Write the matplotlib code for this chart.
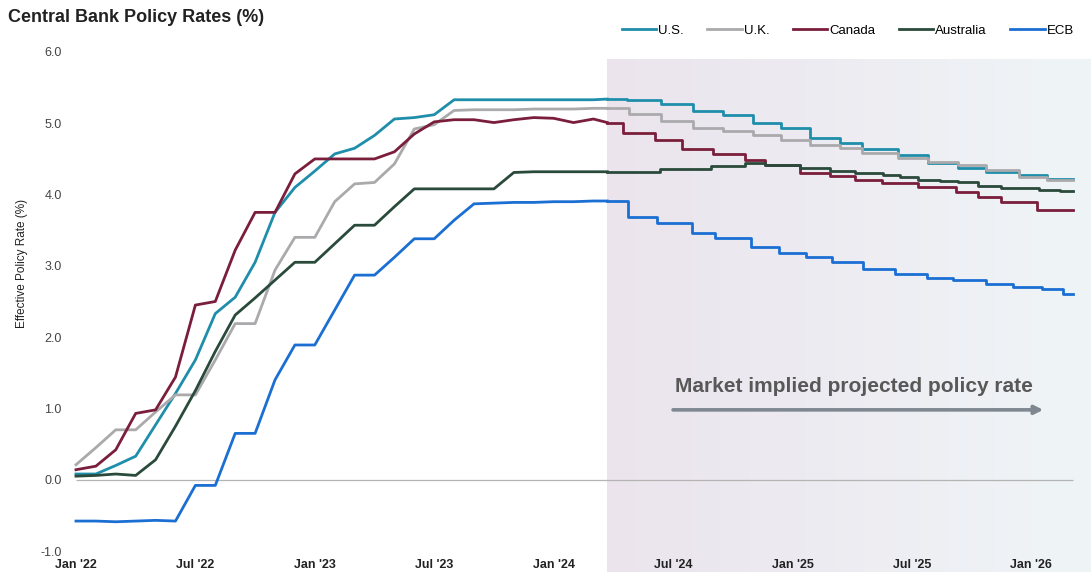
import matplotlib
matplotlib.use("Agg")
import matplotlib.pyplot as plt
import numpy as np

plt.rcParams['font.family'] = ['Liberation Sans', 'DejaVu Sans']

# months since Jan 2022, actual monthly values
hist_months = list(range(27))
us_hist = [0.08, 0.08, 0.20, 0.33, 0.77, 1.21, 1.68, 2.33, 2.56, 3.05, 3.75, 4.10, 4.33, 4.57,
           4.65, 4.83, 5.06, 5.08, 5.12, 5.33, 5.33, 5.33, 5.33, 5.33, 5.33, 5.33, 5.33]
uk_hist = [0.21, 0.45, 0.70, 0.70, 0.95, 1.19, 1.19, 1.68, 2.19, 2.19, 2.94, 3.40, 3.40, 3.90,
           4.15, 4.17, 4.43, 4.92, 4.98, 5.18, 5.19, 5.19, 5.19, 5.20, 5.20, 5.20, 5.21]
canada_hist = [0.14, 0.19, 0.42, 0.93, 0.98, 1.44, 2.45, 2.50, 3.22, 3.75, 3.75, 4.29, 4.50, 4.50,
               4.50, 4.50, 4.60, 4.85, 5.02, 5.05, 5.05, 5.01, 5.05, 5.08, 5.07, 5.01, 5.06]
australia_hist = [0.05, 0.06, 0.08, 0.06, 0.28, 0.75, 1.25, 1.80, 2.31, 2.55, 2.80, 3.05, 3.05, 3.31,
                  3.57, 3.57, 3.83, 4.08, 4.08, 4.08, 4.08, 4.08, 4.31, 4.32, 4.32, 4.32, 4.32]
ecb_hist = [-0.58, -0.58, -0.59, -0.58, -0.57, -0.58, -0.08, -0.08, 0.65, 0.65, 1.40, 1.89, 1.89, 2.38,
            2.87, 2.87, 3.12, 3.38, 3.38, 3.64, 3.87, 3.88, 3.89, 3.89, 3.90, 3.90, 3.91]

# market implied path (meeting dates as months since Jan 2022)
proj_start = 26.7
us_proj_x = [26.7, 27.7, 29.4, 31.0, 32.5, 34.0, 35.4, 36.9, 38.4, 39.5, 41.3, 42.8, 44.3, 45.7, 47.4, 48.8, 50.1]
us_proj = [5.34, 5.32, 5.27, 5.17, 5.11, 5.00, 4.93, 4.79, 4.73, 4.64, 4.55, 4.44, 4.37, 4.31, 4.27, 4.22, 4.22]
uk_proj_x = [26.7, 27.8, 29.4, 31.0, 32.5, 34.0, 35.4, 36.9, 38.4, 39.5, 41.3, 42.8, 44.3, 45.7, 47.4, 48.8, 50.1]
uk_proj = [5.21, 5.13, 5.03, 4.94, 4.89, 4.83, 4.77, 4.69, 4.66, 4.58, 4.51, 4.45, 4.42, 4.34, 4.25, 4.20, 4.20]
canada_proj_x = [26.7, 27.5, 29.1, 30.45, 32.0, 33.6, 34.6, 36.4, 37.9, 39.15, 40.5, 42.3, 44.2, 45.3, 46.5, 48.3, 50.1]
canada_proj = [5.01, 4.87, 4.76, 4.64, 4.57, 4.49, 4.41, 4.30, 4.26, 4.21, 4.16, 4.10, 4.03, 3.97, 3.89, 3.78, 3.78]
australia_proj_x = [26.7, 29.35, 31.9, 33.6, 34.6, 36.4, 37.9, 39.15, 40.55, 41.4, 42.3, 43.4, 44.3, 45.3,
                    46.5, 48.4, 49.45, 50.1]
australia_proj = [4.32, 4.36, 4.40, 4.44, 4.41, 4.37, 4.33, 4.30, 4.27, 4.25, 4.21, 4.19, 4.17, 4.12,
                  4.09, 4.07, 4.05, 4.05]
ecb_proj_x = [26.7, 27.75, 29.2, 30.95, 32.1, 33.9, 35.3, 36.7, 38.0, 39.55, 41.15, 42.75, 44.05, 45.7,
              47.1, 48.55, 49.6, 50.1]
ecb_proj = [3.91, 3.69, 3.60, 3.46, 3.39, 3.26, 3.18, 3.12, 3.05, 2.95, 2.89, 2.83, 2.80, 2.75,
            2.70, 2.67, 2.61, 2.61]

tick_months = [0, 6, 12, 18, 24, 30, 36, 42, 48]
tick_labels = ["Jan '22", "Jul '22", "Jan '23", "Jul '23", "Jan '24", "Jul '24", "Jan '25", "Jul '25", "Jan '26"]
y_ticks = [-1.0, 0.0, 1.0, 2.0, 3.0, 4.0, 5.0, 6.0]

series = [
    ("U.S.", us_hist, us_proj_x, us_proj, "#1f8eaa"),
    ("U.K.", uk_hist, uk_proj_x, uk_proj, "#aaaaad"),
    ("Canada", canada_hist, canada_proj_x, canada_proj, "#7a1e3b"),
    ("Australia", australia_hist, australia_proj_x, australia_proj, "#2a4a3b"),
    ("ECB", ecb_hist, ecb_proj_x, ecb_proj, "#1b6fd3"),
]

W, H = 1091, 572
fig = plt.figure(figsize=(W / 100, H / 100), dpi=100)
ax = fig.add_axes([70 / W, (H - 551) / H, (W - 70) / W, (551 - 52) / H])
ax.set_facecolor("none")
ax.set_xlim(-0.3, 51.0)
ax.set_ylim(-1.0, 6.0)

# shaded forecast window, pink on the left fading to pale blue
grad = np.linspace(0, 1, 256)
left = np.array([235, 228, 237]) / 255
right = np.array([239, 245, 247]) / 255
img = (left[None, :] * (1 - grad[:, None]) + right[None, :] * grad[:, None])[None, :, :]
ax.imshow(img, extent=[proj_start, 51.0, -1.3, 5.9], aspect="auto", clip_on=False, zorder=0)

ax.hlines(0, 0, 50.1, color="#b4b4b4", lw=0.9, zorder=1)

handles = []
for name, hist, px, pv, col in series:
    h, = ax.plot(hist_months + [px[0]], hist + [pv[0]], color=col, lw=2.0, zorder=3,
                 solid_joinstyle="round", label=name)
    ax.plot(px, pv, color=col, lw=2.0, drawstyle="steps-post", zorder=3)
    handles.append(h)

ax.annotate("", xy=(48.6, 0.98), xytext=(30.0, 0.98),
            arrowprops=dict(arrowstyle="-|>,head_length=0.5,head_width=0.25", color="#7f8890", lw=2.6,
                            shrinkA=0, shrinkB=0), zorder=4)
ax.text(30.1, 1.31, "Market implied projected policy rate", fontsize=15, fontweight="bold",
        color="#585858", va="center", ha="left", zorder=4)

ax.set_xticks(tick_months)
ax.set_xticklabels(tick_labels, fontsize=9, fontweight="bold", color="#222222")
ax.set_yticks(y_ticks)
ax.set_yticklabels([f"{v:.1f}" for v in y_ticks], fontsize=9, color="#444444")
ax.tick_params(axis="both", length=0)
ax.tick_params(axis="x", pad=6)
ax.tick_params(axis="y", pad=6)
for s in ax.spines.values():
    s.set_visible(False)

fig.text(22 / W, 1 - 263 / H, "Effective Policy Rate (%)", rotation=90, fontsize=8.5,
         color="#222222", ha="center", va="center")
fig.text(8 / W, 1 - 18 / H, "Central Bank Policy Rates (%)", fontsize=13, fontweight="bold",
         color="#222222", ha="left", va="center")

fig.legend(handles=handles, loc="center right", bbox_to_anchor=(1074 / W, 1 - 31 / H), ncol=5,
           frameon=False, fontsize=9.5, handlelength=2.6, handletextpad=0.15, columnspacing=1.8,
           borderaxespad=0, borderpad=0)

fig.savefig("out.png", dpi=100, facecolor="white")
